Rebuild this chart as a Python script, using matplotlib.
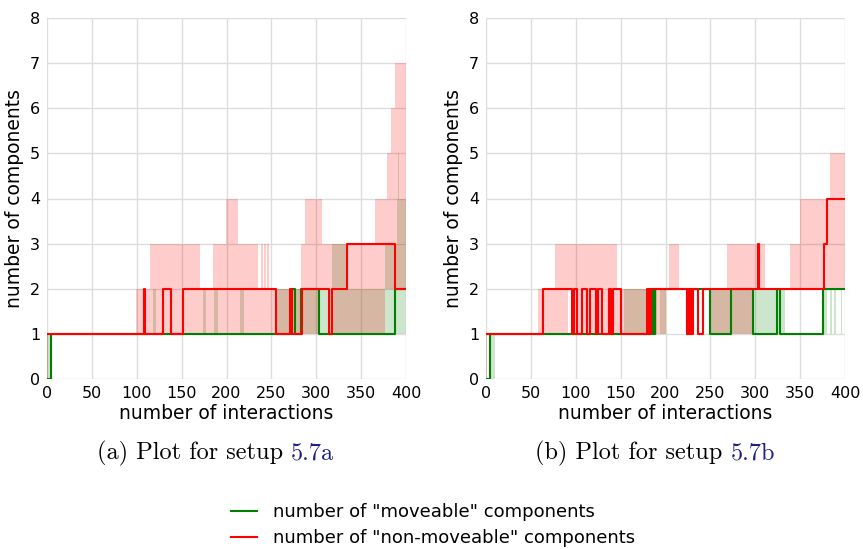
import numpy as np
import matplotlib
matplotlib.use("Agg")
import matplotlib.pyplot as plt
from matplotlib.lines import Line2D

# ---- setup 5.7a (left panel) ----
a_green_x = [0, 5, 273.5, 276.5, 283, 303.4, 387.8]
a_green_y = [0, 1, 2, 1, 2, 1, 2]
a_red_x = [0, 108, 109.5, 129.6, 137.8, 151.9, 255.2, 271, 273.5, 284, 314.5, 317, 334, 387.7]
a_red_y = [1, 2, 1, 2, 1, 2, 1, 2, 1, 2, 1, 2, 3, 2]
a_gband_x = [0, 5, 108, 110, 118, 122, 174, 177, 186, 191, 215, 219, 256, 317, 333, 377, 390, 391, 392]
a_gband_lo = [0, 1, 1, 1, 1, 1, 1, 1, 1, 1, 1, 1, 1, 1, 1, 1, 1, 1, 1]
a_gband_hi = [1, 1, 2, 1, 2, 1, 2, 1, 2, 1, 2, 1, 2, 3, 2, 3, 4, 5, 4]
a_rband_x = [0, 1, 99, 115, 171, 185, 199, 212.5, 234.7, 238.4, 240.3, 242.2, 244, 245,
             247.8, 283, 287.5, 303, 306, 314, 365.5, 377, 378.5, 383, 388]
a_rband_lo = [0, 1, 1, 1, 1, 1, 1, 1, 1, 1, 1, 1, 1, 1,
              1, 1, 1, 2, 2, 1, 1, 2, 2, 2, 2]
a_rband_hi = [1, 1, 2, 3, 2, 3, 4, 3, 2, 3, 2, 3, 2, 3,
              2, 3, 4, 4, 3, 3, 4, 4, 5, 6, 7]

# ---- setup 5.7b (right panel) ----
b_green_x = [0, 4.5, 182, 183, 185, 186.5, 188, 249.6, 273.5, 297, 324, 327.6, 375]
b_green_y = [0, 1, 2, 1, 2, 1, 2, 1, 2, 1, 2, 1, 2]
b_red_x = [0, 64, 96, 98, 101, 106.6, 113, 115.5, 122.6, 124.4, 129, 137, 139.3, 141, 150,
           179, 180, 181, 182, 184, 223.6, 225.4, 226.5, 228, 229.5, 231, 236.6, 242.2,
           302.7, 304, 377, 379.6]
b_red_y = [1, 2, 1, 2, 1, 2, 1, 2, 1, 2, 1, 2, 1, 2, 1,
           2, 1, 2, 1, 2, 1, 2, 1, 2, 1, 2, 1, 2,
           3, 2, 3, 4]
b_gband_x = [0, 4.5, 10, 154, 179, 181, 184, 186, 190, 194, 201, 250, 333,
             375, 380, 383, 385, 388, 390, 395, 397]
b_gband_lo = [0, 0, 1, 1, 1, 1, 1, 1, 2, 1, 2, 1, 1,
              1, 2, 1, 2, 1, 2, 1, 2]
b_gband_hi = [0, 1, 1, 2, 1, 2, 1, 2, 2, 2, 2, 2, 1,
              2, 2, 2, 2, 2, 2, 2, 2]
b_rband_x = [0, 1, 58.3, 77, 91.8, 95.5, 145.6, 201, 204.3, 214.6, 250, 268, 297, 311,
             338.7, 350, 383.3]
b_rband_lo = [0, 1, 1, 1, 2, 1, 1, 2, 2, 2, 1, 1, 2, 2,
              2, 2, 2]
b_rband_hi = [1, 1, 2, 3, 3, 3, 2, 2, 3, 2, 2, 3, 3, 2,
              3, 4, 5]

x_ticks = [0, 50, 100, 150, 200, 250, 300, 350, 400]
y_ticks = [0, 1, 2, 3, 4, 5, 6, 7, 8]
captions = [('(a) Plot for setup', '5.7a'), ('(b) Plot for setup', '5.7b')]
legend_labels = ['number of "moveable" components', 'number of "non-moveable" components']
X_END = 400


def ext(xs, *ys):
    out = [np.append(np.asarray(xs, float), X_END)]
    for y in ys:
        out.append(np.append(np.asarray(y, float), y[-1]))
    return out


def draw_panel(ax, gx, gy, rx, ry, gbx, gblo, gbhi, rbx, rblo, rbhi):
    x, lo, hi = ext(gbx, gblo, gbhi)
    ax.fill_between(x, lo, hi, step='post', color='green', alpha=0.2, lw=0)
    x, lo, hi = ext(rbx, rblo, rbhi)
    ax.fill_between(x, lo, hi, step='post', color='red', alpha=0.2, lw=0)
    x, y = ext(gx, gy)
    ax.step(x, y, where='post', color='green', lw=1.5)
    x, y = ext(rx, ry)
    ax.step(x, y, where='post', color='red', lw=1.5)

    ax.set_xlim(0, 400)
    ax.set_ylim(0, 8)
    ax.set_xticks(x_ticks)
    ax.set_yticks(y_ticks)
    ax.grid(True, color='#dddddd', lw=1)
    ax.set_axisbelow(True)
    for s in ax.spines.values():
        s.set_visible(False)
    ax.tick_params(length=0, labelsize=11.5, pad=5)
    ax.set_xlabel('number of interactions', fontsize=13.5, labelpad=2)
    ax.set_ylabel('number of components', fontsize=13.5, labelpad=4)


fig = plt.figure(figsize=(8.63, 5.49), dpi=100)
W, H = 863, 549
ax1 = fig.add_axes([47 / W, 1 - 379 / H, 359 / W, 361 / H])
ax2 = fig.add_axes([486 / W, 1 - 379 / H, 359 / W, 361 / H])

draw_panel(ax1, a_green_x, a_green_y, a_red_x, a_red_y,
           a_gband_x, a_gband_lo, a_gband_hi, a_rband_x, a_rband_lo, a_rband_hi)
draw_panel(ax2, b_green_x, b_green_y, b_red_x, b_red_y,
           b_gband_x, b_gband_lo, b_gband_hi, b_rband_x, b_rband_lo, b_rband_hi)

# captions: black prefix, blue reference placed after it
renderer = fig.canvas.get_renderer()
cap_y = 1 - 459 / H
cap_font = dict(family='cmr10', fontsize=17.5, ha='left', va='baseline')
for left, (prefix, ref) in zip([97 / W, 535 / W], captions):
    fig.text(left, cap_y, prefix, color='black', **cap_font)
    # width of the full caption minus width of the reference gives where it starts
    tmp_full = fig.text(left, cap_y, prefix + ' ' + ref, **cap_font)
    tmp_ref = fig.text(left, cap_y, ref, **cap_font)
    w_full = tmp_full.get_window_extent(renderer).width
    w_ref = tmp_ref.get_window_extent(renderer).width
    tmp_full.remove()
    tmp_ref.remove()
    fig.text(left + (w_full - w_ref) / W, cap_y, ref, color='#1f1f8a', **cap_font)

handles = [Line2D([], [], color='green', lw=1.5),
           Line2D([], [], color='red', lw=1.5)]
fig.legend(handles, legend_labels,
           loc='upper left', bbox_to_anchor=(222 / W, 1 - 494 / H), frameon=False,
           fontsize=13, handlelength=1.45, handletextpad=0.85, borderpad=0,
           labelspacing=0.45)

fig.savefig('out.png', dpi=100)
